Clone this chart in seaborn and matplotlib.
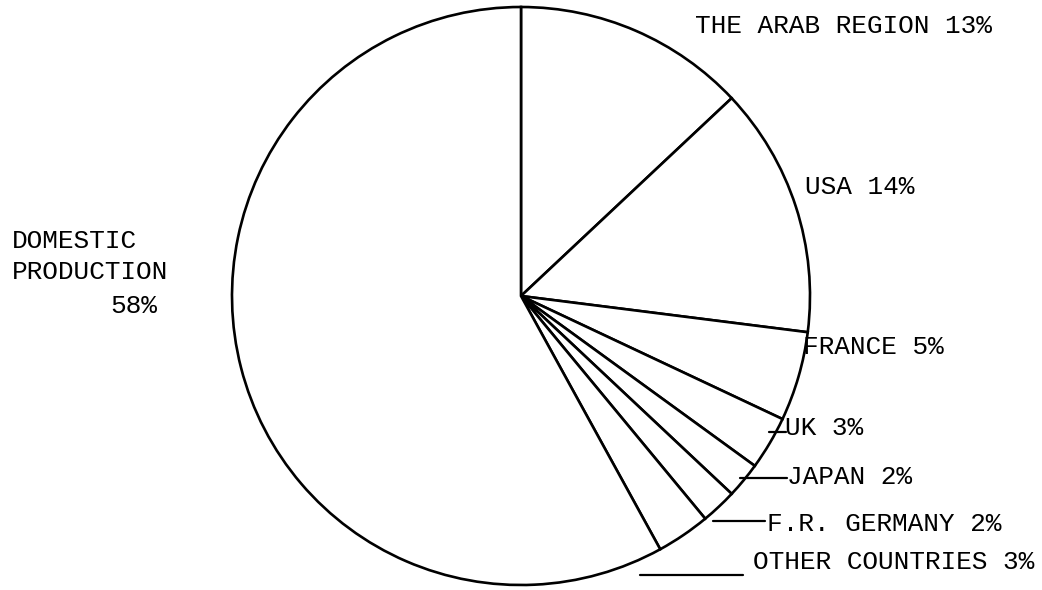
import matplotlib
matplotlib.use("Agg")
import matplotlib.pyplot as plt
import seaborn as sns

labels = ["THE ARAB REGION", "USA", "FRANCE", "UK", "JAPAN",
          "F.R. GERMANY", "OTHER COUNTRIES", "DOMESTIC\nPRODUCTION"]
shares = [13, 14, 5, 3, 2, 2, 3, 58]

sns.set_theme(style="white")
plt.rcParams['font.family'] = ['Liberation Mono', 'DejaVu Sans Mono']

W, H = 1042, 590
fig = plt.figure(figsize=(W / 100, H / 100), dpi=100)
ax = fig.add_axes([0, 0, 1, 1])

cx, cy, r = 521, H - 296, 289
ax.pie(shares, startangle=90, counterclock=False, center=(cx, cy), radius=r,
       colors=["white"] * len(shares),
       wedgeprops=dict(edgecolor="black", linewidth=1.9))
ax.set_xlim(0, W)
ax.set_ylim(0, H)
ax.set_aspect("equal")
ax.axis("off")

fs = 18.8
def txt(x, y, s, ha="left"):
    ax.text(x, H - y, s, fontsize=fs, ha=ha, va="center", color="black")

txt(695, 26, f"{labels[0]} {shares[0]}%")
txt(805, 187, f"{labels[1]} {shares[1]}%")
txt(803, 347, f"{labels[2]} {shares[2]}%")
txt(785, 428, f"{labels[3]} {shares[3]}%")
txt(787, 477, f"{labels[4]} {shares[4]}%")
txt(767, 524, f"{labels[5]} {shares[5]}%")
txt(753, 562, f"{labels[6]} {shares[6]}%")
dom1, dom2 = labels[7].split("\n")
txt(12, 241, dom1)
txt(12, 272, dom2)
txt(110, 306, f"{shares[7]}%")

def seg(x0, y0, x1, y1):
    ax.plot([x0, x1], [H - y0, H - y1], color="black", lw=1.6)

seg(769, 432, 786, 432)
seg(740, 478, 787, 478)
seg(713, 521, 765, 521)
seg(640, 575, 743, 575)

fig.savefig("out.png", dpi=100, facecolor="white")
